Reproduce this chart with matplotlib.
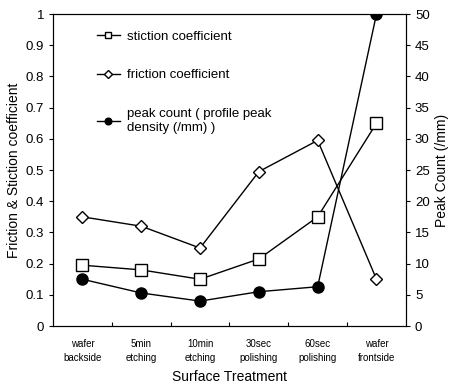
import numpy as np
import matplotlib.pyplot as plt

treatments = ['wafer\nbackside', '5min\netching', '10min\netching',
              '30sec\npolishing', '60sec\npolishing', 'wafer\nfrontside']
stiction = [0.195, 0.18, 0.15, 0.215, 0.35, 0.65]
friction = [0.35, 0.32, 0.25, 0.495, 0.595, 0.15]
peak_count = [7.5, 5.3, 4.0, 5.5, 6.3, 50.0]

plt.rcParams['font.family'] = 'Liberation Sans'

fig = plt.figure(figsize=(4.49, 3.9), dpi=100)
ax = fig.add_axes([0.118, 0.164, 0.786, 0.8])
ax2 = ax.twinx()

x = np.arange(len(treatments))
l1, = ax.plot(x, stiction, color='k', lw=1, marker='s', ms=8, mfc='white', mec='k',
              label='stiction coefficient')
l2, = ax.plot(x, friction, color='k', lw=1, marker='D', ms=6.5, mfc='white', mec='k',
              label='friction coefficient')
l3, = ax2.plot(x, peak_count, color='k', lw=1, marker='o', ms=8, mfc='k', mec='k',
               label='peak count ( profile peak\ndensity (/mm) )')
ax2.set_zorder(ax.get_zorder() - 1)
ax.patch.set_visible(False)

ax.set_xlim(-0.5, 5.5)
ax.set_ylim(0, 1)
ax2.set_ylim(0, 50)
ax.set_yticks(np.arange(0, 1.01, 0.1))
ax.set_yticklabels(['0', '0.1', '0.2', '0.3', '0.4', '0.5', '0.6', '0.7', '0.8', '0.9', '1'])
ax2.set_yticks(np.arange(0, 51, 5))

ax.set_xticks(np.arange(0.5, 5, 1))
ax.set_xticklabels([])
ax.set_xticks(x, minor=True)
ax.set_xticklabels(treatments, minor=True, fontsize=7, linespacing=1.6)
ax.tick_params(axis='x', which='minor', length=0, pad=9)
ax.tick_params(axis='x', which='major', direction='in', length=3)
ax.tick_params(axis='y', direction='out', length=3, labelsize=9.5)
ax2.tick_params(axis='y', direction='out', length=3, labelsize=9.5)

ax.set_xlabel('Surface Treatment', fontsize=10, labelpad=5)
ax.set_ylabel('Friction & Stiction coefficient', fontsize=10, labelpad=3)
ax2.set_ylabel('Peak Count (/mm)', fontsize=10)

for a in (ax, ax2):
    for s in a.spines.values():
        s.set_linewidth(0.8)

ax.legend(handles=[l1, l2, l3], loc='upper left', bbox_to_anchor=(0.09, 0.985),
          frameon=False, fontsize=9.5, handlelength=1.8, handletextpad=0.5,
          labelspacing=2.0, markerscale=0.6)

fig.savefig('out.png', dpi=100)
